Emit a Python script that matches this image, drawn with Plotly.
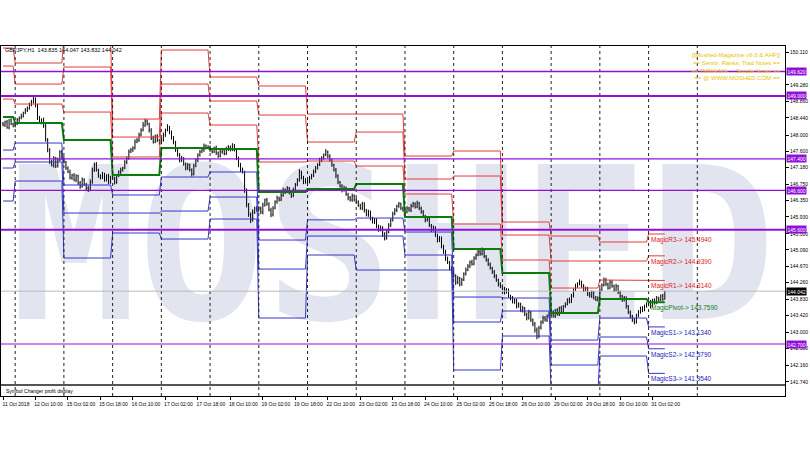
import plotly.graph_objects as go

# ---------------- data ----------------
symbol = "GBPJPY,H1"
first_open = 148.30
closes = [
    148.26, 148.34, 148.19, 148.39, 148.29, 148.24,
    148.29, 148.39, 148.44, 148.49, 148.57, 148.64, 148.69, 148.77, 148.85, 148.92, 148.77, 148.44, 148.34, 148.39, 148.24, 147.88, 147.63, 147.32, 147.25, 147.42, 147.22, 147.37, 147.58, 147.42,
    147.32, 147.17, 147.07, 146.92, 146.99, 146.87, 146.97, 146.79, 146.71, 146.87, 146.76, 146.66, 146.61, 146.81, 147.12, 147.27, 147.12, 146.97, 146.92, 147.02, 146.87, 146.97, 146.81, 146.94,
    146.92, 146.81, 146.97, 147.07, 147.12, 147.17, 147.32, 147.42, 147.58, 147.63, 147.68, 147.83, 147.88, 148.01, 148.13, 148.26, 148.36, 148.29, 148.13, 147.93, 147.83, 147.98, 147.88, 147.80,
    147.88, 148.01, 148.13, 148.21, 148.08, 147.93, 147.83, 147.63, 147.50, 147.37, 147.42, 147.27, 147.17, 147.25, 147.12, 147.02, 147.22, 147.37, 147.50, 147.58, 147.63, 147.73, 147.68, 147.70,
    147.63, 147.58, 147.68, 147.55, 147.47, 147.58, 147.63, 147.53, 147.65, 147.70, 147.63, 147.73, 147.63, 147.42, 147.25, 147.12, 147.07, 146.61, 146.23, 145.98, 145.85, 146.05, 146.15, 146.10,
    146.15, 146.05, 146.23, 146.36, 146.26, 146.10, 145.98, 146.15, 146.31, 146.41, 146.36, 146.48, 146.61, 146.56, 146.66, 146.54, 146.46, 146.61, 146.74, 146.87, 147.07, 146.92, 146.81, 146.87,
    146.81, 146.92, 146.99, 147.07, 147.17, 147.25, 147.37, 147.42, 147.50, 147.58, 147.47, 147.37, 147.25, 147.12, 146.97, 146.81, 146.71, 146.61, 146.66, 146.51, 146.41, 146.36, 146.46, 146.36,
    146.31, 146.23, 146.15, 146.26, 146.10, 145.98, 146.05, 145.90, 145.80, 145.85, 145.70, 145.60, 145.65, 145.49, 145.39, 145.54, 145.72, 145.85, 146.00, 146.10, 146.20, 146.26, 146.15, 146.10,
    146.05, 146.15, 146.10, 146.20, 146.26, 146.18, 146.28, 146.15, 146.05, 145.95, 145.85, 145.90, 145.72, 145.60, 145.65, 145.47, 145.34, 145.39, 145.19, 145.04, 144.88, 144.78, 144.63, 144.53,
    144.43, 144.27, 144.37, 144.22, 144.33, 144.48, 144.58, 144.68, 144.78, 144.73, 144.88, 144.96, 145.04, 144.99, 145.09, 144.93, 144.83, 144.73, 144.63, 144.53, 144.43, 144.33, 144.22, 144.17,
    144.12, 144.02, 144.07, 143.92, 143.87, 143.77, 143.82, 143.66, 143.71, 143.56, 143.61, 143.46, 143.36, 143.51, 143.31, 143.21, 143.06, 142.90, 143.11, 143.26, 143.36, 143.31, 143.41, 143.46,
    143.51, 143.41, 143.56, 143.46, 143.61, 143.51, 143.66, 143.71, 143.82, 143.77, 143.92, 144.07, 144.17, 144.22, 144.27, 144.17, 144.07, 144.12, 143.97, 143.92, 144.02, 143.87, 143.82, 143.87,
    144.07, 144.20, 144.33, 144.22, 144.12, 144.27, 144.17, 144.07, 144.17, 144.02, 143.92, 143.82, 143.87, 143.66, 143.51, 143.41, 143.31, 143.26, 143.41, 143.51, 143.61, 143.56, 143.66, 143.71,
    143.77, 143.66, 143.82, 143.74, 143.87, 143.82, 143.92, 143.835, 144.042,
]
# upper / lower wick lengths in pips (0.01)
wick_up = [
    4, 3, 5, 2, 4, 3,
    3, 5, 4, 6, 3, 5, 4, 6, 5, 8, 4, 3, 5, 4, 6, 7, 5, 4, 6, 5, 3, 6, 4, 5,
    5, 3, 4, 6, 3, 5, 4, 3, 5, 6, 4, 3, 5, 7, 6, 4, 5, 3, 4, 5, 3, 4, 5, 3,
    4, 3, 5, 4, 6, 3, 5, 4, 6, 5, 4, 7, 5, 6, 5, 8, 6, 4, 3, 5, 6, 4, 5, 3,
    5, 6, 4, 7, 3, 4, 5, 3, 4, 5, 6, 3, 4, 5, 3, 4, 6, 5, 4, 5, 3, 6, 4, 5,
    4, 5, 3, 6, 4, 5, 4, 3, 6, 5, 4, 7, 5, 3, 4, 5, 6, 3, 4, 5, 6, 7, 4, 5,
    5, 4, 6, 3, 5, 4, 6, 5, 4, 6, 3, 5, 6, 4, 5, 3, 4, 6, 5, 4, 7, 3, 5, 4,
    4, 5, 3, 6, 5, 4, 6, 5, 4, 7, 3, 5, 4, 3, 5, 4, 3, 5, 6, 4, 3, 5, 6, 4,
    5, 4, 3, 5, 4, 3, 6, 4, 3, 5, 4, 3, 6, 4, 5, 6, 5, 4, 6, 5, 4, 5, 3, 4,
    4, 5, 3, 6, 5, 4, 6, 3, 4, 5, 3, 4, 5, 3, 6, 4, 3, 5, 4, 3, 5, 4, 3, 5,
    5, 4, 6, 3, 5, 4, 6, 5, 4, 6, 5, 4, 7, 5, 6, 4, 3, 5, 4, 3, 5, 4, 3, 5,
    4, 3, 5, 4, 3, 5, 4, 3, 5, 4, 6, 3, 4, 6, 3, 4, 5, 6, 5, 4, 6, 5, 4, 5,
    4, 5, 3, 5, 4, 6, 3, 5, 4, 6, 5, 4, 6, 5, 7, 4, 5, 4, 3, 5, 4, 3, 5, 4,
    5, 4, 6, 5, 4, 6, 5, 4, 6, 3, 4, 3, 5, 4, 3, 4, 3, 5, 6, 5, 4, 5, 4, 5,
    4, 5, 3, 4, 5, 3, 4, 5, 0.5,
]
wick_dn = [
    3, 5, 2, 4, 3, 4,
    4, 3, 5, 3, 4, 3, 5, 4, 3, 4, 6, 5, 4, 6, 5, 4, 6, 5, 4, 7, 5, 4, 3, 5,
    4, 5, 3, 4, 5, 4, 6, 5, 7, 4, 5, 6, 5, 3, 4, 5, 4, 5, 4, 3, 5, 4, 5, 4,
    5, 6, 4, 3, 5, 4, 3, 5, 4, 3, 5, 4, 3, 5, 4, 3, 5, 4, 6, 5, 4, 3, 5, 4,
    3, 4, 5, 3, 5, 4, 6, 5, 4, 6, 5, 4, 6, 5, 4, 7, 4, 3, 5, 4, 3, 5, 4, 3,
    5, 4, 3, 5, 4, 3, 5, 4, 3, 5, 4, 3, 4, 5, 6, 5, 4, 7, 6, 5, 8, 4, 5, 4,
    4, 5, 6, 4, 5, 3, 6, 4, 3, 5, 4, 3, 4, 5, 3, 4, 5, 3, 4, 3, 5, 4, 5, 4,
    5, 3, 4, 5, 3, 4, 3, 5, 4, 3, 5, 4, 5, 4, 6, 5, 4, 6, 4, 5, 6, 4, 5, 4,
    4, 5, 4, 5, 6, 4, 5, 6, 4, 5, 6, 5, 4, 7, 6, 4, 3, 5, 4, 3, 5, 4, 5, 4,
    5, 3, 4, 5, 3, 4, 3, 5, 4, 5, 6, 4, 5, 6, 4, 5, 6, 5, 6, 5, 7, 5, 6, 5,
    6, 7, 5, 6, 4, 3, 4, 3, 5, 4, 3, 4, 3, 5, 4, 5, 4, 5, 4, 5, 6, 5, 6, 5,
    5, 6, 4, 5, 6, 4, 5, 6, 4, 5, 6, 5, 6, 4, 5, 6, 7, 8, 5, 4, 5, 4, 5, 4,
    5, 4, 5, 4, 5, 4, 3, 4, 3, 4, 3, 4, 3, 4, 3, 4, 5, 4, 5, 4, 5, 4, 3, 4,
    4, 3, 4, 5, 4, 3, 4, 5, 4, 5, 6, 5, 4, 6, 5, 6, 5, 6, 4, 3, 4, 5, 3, 4,
    5, 6, 3, 4, 3, 4, 3, 4, 0.3,
]

# first bar index of each trading day (11 Oct 18:00 = bar 0)
day_starts = [0, 6, 30, 54, 78, 102, 126, 150, 174, 198, 222, 246, 270, 294, 318]
separator_bars = [6, 30, 54, 78, 102, 126, 150, 174, 198, 222, 246, 270, 294, 318, 342]

# daily "Magic" pivot levels, one value per day
R3 = [150.216, 149.836, 150.445, 148.413, 150.166, 149.480, 149.252, 148.540, 148.540, 147.474, 147.601, 145.798, 145.442, 145.290, 145.494]
R2 = [149.759, 149.302, 149.734, 147.956, 149.302, 148.871, 148.515, 147.829, 148.083, 146.890, 146.966, 145.468, 144.808, 144.808, 144.939]
R1 = [148.921, 148.794, 148.591, 147.449, 148.566, 148.261, 147.322, 147.347, 147.220, 146.509, 145.747, 144.833, 144.122, 144.325, 144.314]
PV = [148.464, 148.312, 147.880, 146.991, 147.677, 147.652, 146.560, 146.636, 146.763, 145.925, 145.112, 144.503, 143.487, 143.843, 143.759]
S1 = [147.626, 147.804, 146.738, 146.484, 146.941, 147.068, 145.341, 145.853, 145.899, 145.544, 143.893, 143.868, 142.801, 143.360, 143.134]
S2 = [147.169, 147.322, 146.026, 146.026, 146.077, 146.433, 144.604, 145.442, 145.442, 144.960, 143.259, 143.538, 142.167, 142.878, 142.579]
S3 = [146.331, 146.839, 144.884, 145.519, 145.366, 145.874, 143.360, 144.960, 144.579, 144.579, 142.040, 142.903, 141.481, 142.395, 141.954]

key_levels = [149.620, 149.000, 147.400, 146.600, 145.600, 142.700]

x_tick_bars = [0, 16, 32, 48, 64, 80, 96, 112, 128, 144, 160, 176, 192, 208, 224, 240, 256, 272, 288, 304, 320]
x_tick_labels = ["11 Oct 2018", "12 Oct 10:00", "15 Oct 02:00", "15 Oct 18:00", "16 Oct 10:00",
                 "17 Oct 02:00", "17 Oct 18:00", "18 Oct 10:00", "19 Oct 02:00", "19 Oct 18:00",
                 "22 Oct 10:00", "23 Oct 02:00", "23 Oct 18:00", "24 Oct 10:00", "25 Oct 02:00",
                 "25 Oct 18:00", "26 Oct 10:00", "29 Oct 02:00", "29 Oct 18:00", "30 Oct 10:00",
                 "31 Oct 02:00"]
y_ticks = [141.740, 142.160, 142.580, 143.000, 143.420, 143.830, 144.260, 144.670, 145.090,
           145.500, 145.930, 146.350, 146.750, 147.180, 147.600, 148.000, 148.440, 148.860,
           149.280, 150.110]

info_lines = ["[[Moshed-Magazine v9.0 & AHF]]", "== Sentiz, Ranks, Trad Notes ==",
              "== 7MMA/MA ... Simple Notes ==", "== @ WWW.MOSHED.COM =="]
watermark = "MOSHED"

# ---------------- build ----------------
n = len(closes)
idx = list(range(n))
opens = [first_open] + closes[:-1]
highs = [max(o, c) + u / 100 for o, c, u in zip(opens, closes, wick_up)]
lows = [min(o, c) - d / 100 for o, c, d in zip(opens, closes, wick_dn)]
day_ends = [s - 1 for s in day_starts[1:]] + [n - 1]

FONT = "Liberation Sans, Arial, sans-serif"
fig = go.Figure()

fig.add_trace(go.Ohlc(
    x=idx, open=opens, high=highs, low=lows, close=closes,
    increasing=dict(line=dict(color="black", width=1)),
    decreasing=dict(line=dict(color="black", width=1)),
    tickwidth=0.25, showlegend=False, hoverinfo="skip", xaxis="x", yaxis="y"))


def step(vals):
    xs, ys = [], []
    for s, e, v in zip(day_starts, day_ends, vals):
        xs += [s, e]
        ys += [v, v]
    return xs, ys


levels = [("R3", R3, "#e43a3a", 1), ("R2", R2, "#e43a3a", 1), ("R1", R1, "#e43a3a", 1),
          ("S1", S1, "#3434cc", 1), ("S2", S2, "#3434cc", 1), ("S3", S3, "#3434cc", 1),
          ("Pivot", PV, "#0c7a0c", 2)]
for name, vals, col, w in levels:
    xs, ys = step(vals)
    fig.add_trace(go.Scatter(x=xs, y=ys, mode="lines", line=dict(color=col, width=w),
                             showlegend=False, hoverinfo="skip", xaxis="x", yaxis="y"))

shapes = []
# watermark
shapes.append(dict(type="rect", xref="paper", yref="paper", x0=0, x1=1, y0=0.198, y1=0.748,
                   line=dict(width=0), fillcolor="rgba(0,0,0,0)", layer="below",
                   label=dict(text=watermark, textposition="middle center",
                              font=dict(family="DejaVu Sans Mono, Liberation Mono, monospace",
                                        size=212, color="#e2e5f0", weight="bold"))))
# day separators
for b in separator_bars:
    shapes.append(dict(type="line", xref="x", yref="paper", x0=b, x1=b, y0=0, y1=1,
                       line=dict(color="#222222", width=1, dash="dot")))
# key levels
key_w = [1.6, 2, 1.2, 1.2, 2, 1.2]
for lv, w in zip(key_levels, key_w):
    shapes.append(dict(type="line", xref="paper", yref="y", x0=0, x1=1, y0=lv, y1=lv,
                       line=dict(color="#9010d8", width=w)))
# bid line
shapes.append(dict(type="line", xref="paper", yref="y", x0=0, x1=1, y0=closes[-1], y1=closes[-1],
                   line=dict(color="#b8b8b8", width=1)))
# pane separator
shapes.append(dict(type="line", xref="paper", yref="paper", x0=0, x1=1, y0=0.0314, y1=0.0314,
                   line=dict(color="#555555", width=2)))

ann = []
ann.append(dict(xref="paper", yref="paper", x=0.003, y=0.989, xanchor="left", yanchor="middle",
                text=f"{symbol}  {opens[-1]:.3f} {highs[-1]:.3f} {lows[-1]:.3f} {closes[-1]:.3f}",
                showarrow=False, font=dict(family=FONT, size=5.5, color="black")))
ann.append(dict(xref="paper", yref="paper", x=0.997, y=0.99, xanchor="right", yanchor="top",
                text="<br>".join(info_lines), align="right", showarrow=False,
                font=dict(family=FONT, size=6, color="#e8c400")))
ann.append(dict(xref="paper", yref="paper", x=0.004, y=0.0157, xanchor="left", yanchor="middle",
                text="Symbol Changer profit display", showarrow=False,
                font=dict(family=FONT, size=5, color="black")))
for lv in key_levels:
    ann.append(dict(xref="paper", yref="y", x=1, y=lv, xanchor="left", yanchor="middle", xshift=1,
                    text=f"{lv:.3f}", showarrow=False, bgcolor="#9010d8", borderpad=0.5,
                    font=dict(family=FONT, size=5, color="white")))
ann.append(dict(xref="paper", yref="y", x=1, y=closes[-1], xanchor="left", yanchor="middle", xshift=1,
                text=f"{closes[-1]:.3f}", showarrow=False, bgcolor="black", borderpad=0.5,
                font=dict(family=FONT, size=5, color="white")))
label_specs = [("MagicR3", R3, "#e02020"), ("MagicR2", R2, "#e02020"), ("MagicR1", R1, "#e02020"),
               ("MagicPivot", PV, "#108010"), ("MagicS1", S1, "#2020c0"),
               ("MagicS2", S2, "#2020c0"), ("MagicS3", S3, "#2020c0")]
for name, vals, col in label_specs:
    ann.append(dict(xref="x", yref="y", x=day_starts[-1], y=vals[-1], xanchor="left", yanchor="top",
                    text=f"{name}-> {vals[-1]:.4f}", showarrow=False,
                    font=dict(family=FONT, size=6.5, color=col)))

fig.update_layout(
    width=810, height=450, margin=dict(l=1, r=25, t=46, b=54, autoexpand=False),
    paper_bgcolor="white", plot_bgcolor="white", showlegend=False,
    shapes=shapes, annotations=ann,
    xaxis=dict(domain=[0, 1], range=[-0.985, 385.2], anchor="y", showticklabels=False,
               showgrid=False, zeroline=False, showline=True, mirror=True, linecolor="black",
               linewidth=1, rangeslider=dict(visible=False), ticks=""),
    yaxis=dict(domain=[0.0314, 1], range=[141.659, 150.268], side="right", anchor="x",
               tickvals=y_ticks, ticktext=[f"{v:.3f}" for v in y_ticks], ticks="outside",
               ticklen=3, tickcolor="black", tickfont=dict(family=FONT, size=5, color="black"),
               showgrid=False, zeroline=False, showline=True, mirror=True, linecolor="black"),
    xaxis2=dict(domain=[0, 1], range=[-0.985, 385.2], anchor="y2", matches="x",
                tickvals=x_tick_bars, ticktext=x_tick_labels, ticks="outside", ticklen=3,
                tickcolor="black", tickfont=dict(family=FONT, size=5, color="black"),
                ticklabelshift=13, showgrid=False, zeroline=False, showline=True, mirror=True,
                linecolor="black"),
    yaxis2=dict(domain=[0, 0.0314], range=[0, 1], anchor="x2", showticklabels=False, ticks="",
                showgrid=False, zeroline=False, showline=True, mirror=True, linecolor="black"),
)
fig.add_trace(go.Scatter(x=[], y=[], xaxis="x2", yaxis="y2", showlegend=False))

fig.write_html("out.html", config={"displayModeBar": False},
               post_script="document.body.style.margin='0';document.body.style.padding='0';")
